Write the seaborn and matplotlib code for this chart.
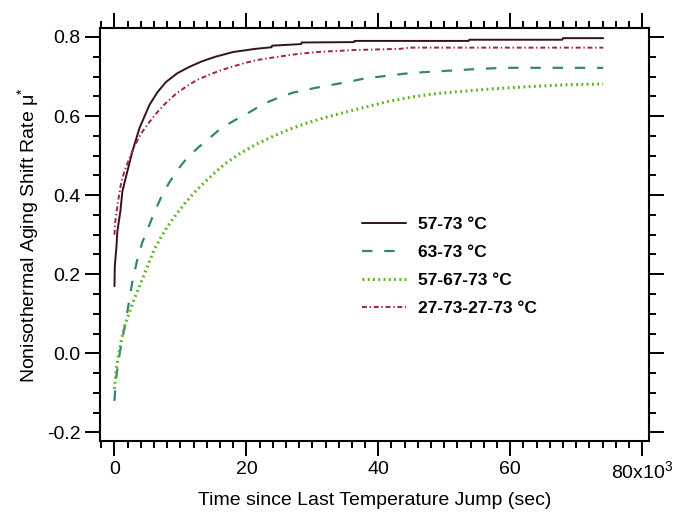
import numpy as np
import pandas as pd
import matplotlib
matplotlib.use("Agg")
import matplotlib.pyplot as plt
from matplotlib.ticker import MultipleLocator
import seaborn as sns

# Values (time in 10^3 sec)
t_57_73 = [0, 0.05, 0.3, 0.45, 0.9, 1.2, 1.8, 2.7, 3.8, 5.3, 6.5, 7.8, 9.5, 11.3, 13.2,
           15.3, 18.0, 21.4, 23.8, 23.9, 28.3, 28.4, 36.3, 36.4, 53.7, 53.8, 67.9, 68.0, 74.1]
mu_57_73 = [0.17, 0.22, 0.27, 0.31, 0.36, 0.41, 0.45, 0.51, 0.57, 0.628, 0.66, 0.686, 0.708, 0.724, 0.738,
            0.75, 0.762, 0.77, 0.774, 0.778, 0.782, 0.786, 0.787, 0.79, 0.79, 0.793, 0.793, 0.797, 0.797]

t_63_73 = [0, 0.2, 0.6, 1.1, 1.6, 2.1, 2.7, 3.5, 4.2, 5.3, 6.0, 7.0, 8.3, 9.8, 11.0, 12.8, 14.6,
           16.2, 18.3, 20.6, 22.6, 24.8, 27.0, 30.4, 32.3, 35.3, 37.9, 40.9, 43.9, 46.9, 52.0,
           55.0, 59.0, 74.1]
mu_63_73 = [-0.12, -0.07, -0.02, 0.03, 0.07, 0.12, 0.18, 0.24, 0.28, 0.325, 0.355, 0.392, 0.432,
            0.469, 0.494, 0.522, 0.547, 0.57, 0.59, 0.611, 0.631, 0.646, 0.659, 0.671, 0.677, 0.686,
            0.695, 0.701, 0.707, 0.711, 0.716, 0.719, 0.722, 0.722]

t_57_67_73 = [0, 0.2, 0.5, 1.0, 1.5, 2.3, 3.0, 3.8, 4.5, 5.3, 6.0, 7.0, 8.0, 9.3, 10.8, 12.3, 13.8,
              15.3, 16.8, 19.2, 21.4, 23.8, 26.3, 29.3, 32.3, 35.3, 38.8, 41.8, 45.4, 48.9, 52.3,
              57.4, 62.4, 68.4, 74.1]
mu_57_67_73 = [-0.09, -0.05, -0.016, 0.03, 0.068, 0.105, 0.138, 0.17, 0.199, 0.232, 0.262, 0.292,
               0.32, 0.35, 0.382, 0.41, 0.435, 0.458, 0.48, 0.507, 0.528, 0.547, 0.565, 0.583,
               0.598, 0.611, 0.626, 0.638, 0.649, 0.657, 0.662, 0.669, 0.674, 0.679, 0.681]

t_27_73 = [0, 0.1, 0.5, 1.0, 1.5, 2.2, 3.0, 4.0, 5.3, 6.5, 7.8, 9.3, 11.0, 12.6, 14.3, 16.0, 17.7,
           19.5, 21.4, 24.8, 27.8, 30.8, 36.4, 43.3, 44.8, 74.1]
mu_27_73 = [0.30, 0.33, 0.38, 0.43, 0.46, 0.49, 0.522, 0.555, 0.585, 0.61, 0.633, 0.656, 0.676, 0.692,
            0.704, 0.715, 0.724, 0.733, 0.741, 0.75, 0.757, 0.762, 0.767, 0.77, 0.773, 0.773]

labels = ["57-73 \u00b0C", "63-73 \u00b0C", "57-67-73 \u00b0C", "27-73-27-73 \u00b0C"]
x_ticks = [0, 20, 40, 60, 80]
x_ticklabels = ['0', '20', '40', '60', '80x10$^{3}$']
y_ticks = [-0.2, 0.0, 0.2, 0.4, 0.6, 0.8]

sns.set_theme(style="ticks")
plt.rcParams['font.family'] = ['Liberation Sans', 'DejaVu Sans']
plt.rcParams['axes.unicode_minus'] = False
plt.rcParams['lines.scale_dashes'] = False
plt.rcParams['mathtext.fontset'] = 'custom'
plt.rcParams['mathtext.rm'] = 'Liberation Sans'
plt.rcParams['mathtext.it'] = 'Liberation Sans'
plt.rcParams['text.color'] = 'black'
plt.rcParams['axes.labelcolor'] = 'black'

fig = plt.figure(figsize=(6.8, 5.16), dpi=100)
ax = fig.add_axes([0.147, 0.145, 0.807, 0.801])

series = [
    (t_57_73, mu_57_73, labels[0], '#361214', 1.4, '-'),
    (t_63_73, mu_63_73, labels[1], '#358479', 1.6, (0, (7.5, 8.5))),
    (t_57_67_73, mu_57_67_73, labels[2], '#55b51a', 2.2, (0, (1.3, 2.5))),
    (t_27_73, mu_27_73, labels[3], '#a3203a', 1.4, (0, (3.5, 2.0, 1.0, 2.0))),
]
for t, mu, lab, col, lw, ls in series:
    df = pd.DataFrame({'t': t, 'mu': mu})
    sns.lineplot(data=df, x='t', y='mu', ax=ax, color=col, lw=lw, linestyle=ls,
                 label=lab, estimator=None, sort=False)

ax.set_xlim(-2.2, 81)
ax.set_ylim(-0.222, 0.823)
ax.set_xticks(x_ticks)
ax.set_xticklabels(x_ticklabels)
ax.set_yticks(y_ticks)
ax.set_yticklabels(['%.1f' % v for v in y_ticks])
ax.xaxis.set_minor_locator(MultipleLocator(2))
ax.yaxis.set_minor_locator(MultipleLocator(0.05))
ax.tick_params(which='both', direction='out', top=True, right=True, width=1.4, color='black',
               labelsize=14, labelcolor='black')
ax.tick_params(which='major', length=11, pad=3)
ax.tick_params(which='minor', length=5)
for s in ax.spines.values():
    s.set_linewidth(1.5)
    s.set_color('black')

ax.set_xlabel('Time since Last Temperature Jump (sec)', fontsize=14, labelpad=7)
ax.set_ylabel('Nonisothermal Aging Shift Rate \u03bc$^{*}$', fontsize=14, labelpad=4)

leg = ax.legend(loc='upper left', bbox_to_anchor=(0.478, 0.543), frameon=False,
                prop={'weight': 'bold', 'size': 12.5}, handlelength=2.5, handletextpad=0.7,
                labelspacing=0.75, borderpad=0, borderaxespad=0)

fig.savefig('out.png', dpi=100)
